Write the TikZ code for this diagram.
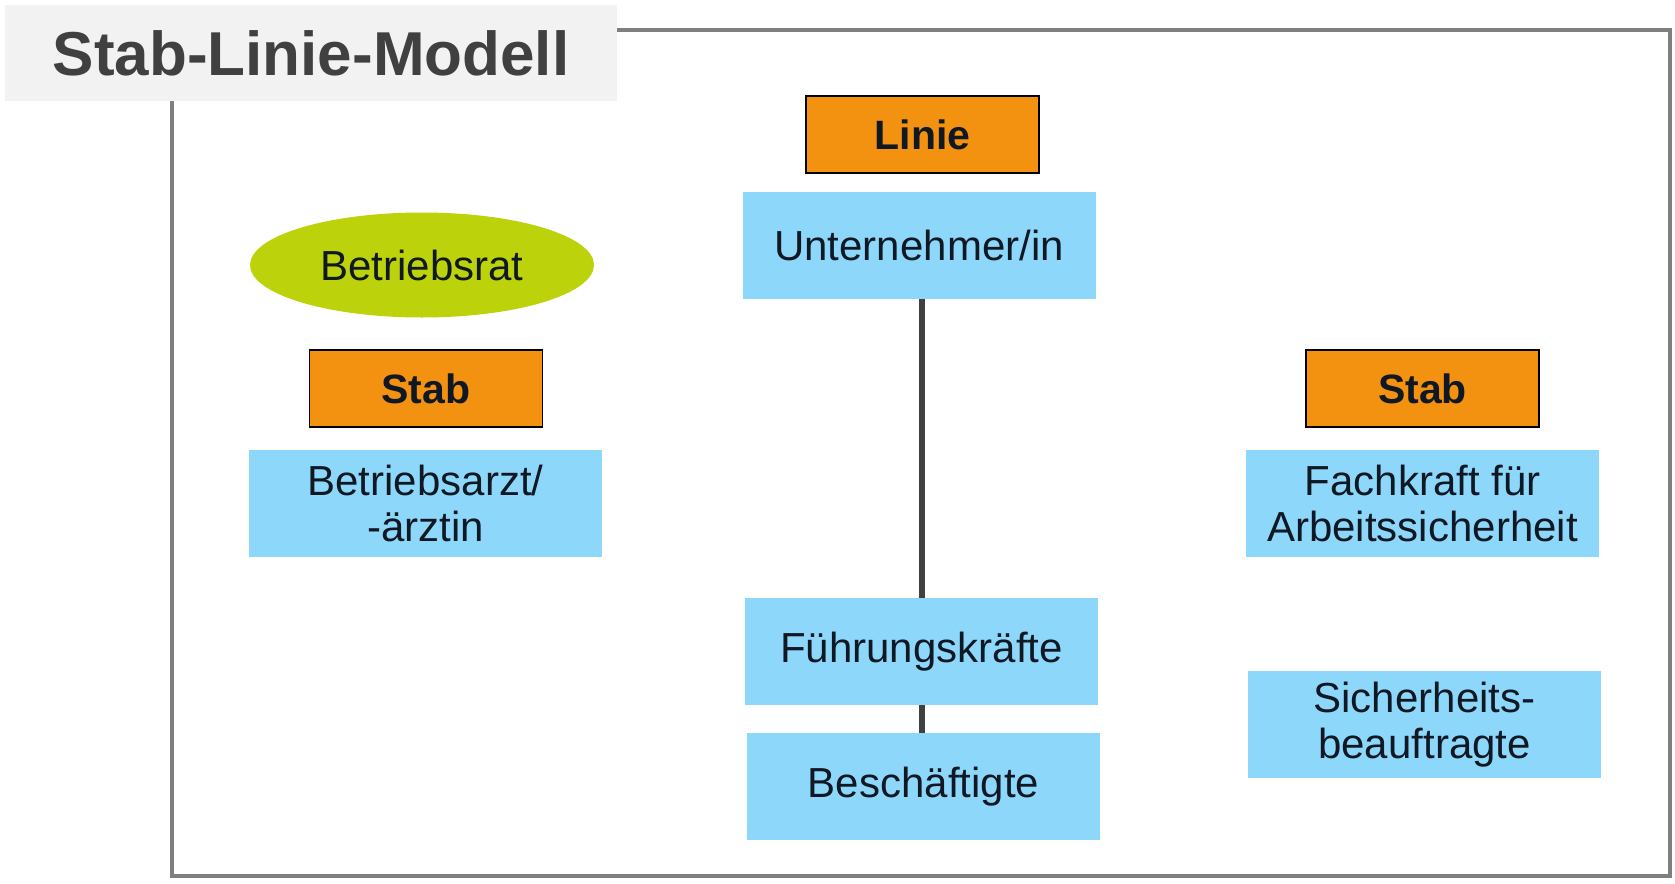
\documentclass[tikz,border=0pt]{standalone}
\usepackage{fontspec}
\setmainfont{Liberation Sans}
\usetikzlibrary{shapes.geometric}
\definecolor{orangeC}{RGB}{243,146,16}
\definecolor{blueC}{RGB}{141,216,250}
\definecolor{greenC}{RGB}{188,210,10}
\definecolor{titleBg}{RGB}{242,242,242}
\definecolor{frameC}{RGB}{127,127,127}
\definecolor{lineC}{RGB}{64,64,64}
\definecolor{txtC}{RGB}{16,24,36}
\tikzset{
  bodyfont/.style={font=\fontsize{42}{46}\selectfont, text=txtC},
  orangebox/.style={draw=black, line width=1.2pt, fill=orangeC, minimum width=233pt, minimum height=77pt, inner sep=0pt, font=\fontsize{41}{46}\selectfont\bfseries, text=txtC},
  bluebox/.style={fill=blueC, minimum width=353pt, minimum height=107pt, inner sep=0pt, align=center, bodyfont},
  greenell/.style={ellipse, fill=greenC, minimum width=344pt, minimum height=105pt, inner sep=0pt, bodyfont},
  conn/.style={draw=lineC, line width=6pt},
}
\begin{document}
\begin{tikzpicture}[x=1pt,y=-1pt]
\useasboundingbox[fill=white] (0,0) rectangle (1675,883);
% frame
\draw[frameC, line width=4.5pt] (172,30) rectangle (1670,876);
% title
\node[fill=titleBg, minimum width=612pt, minimum height=96pt, inner sep=0pt,
  font=\fontsize{62}{70}\selectfont\bfseries, text=lineC] (title) at (311,53) {Stab-Linie-Modell};
% centre column
\node[orangebox] (linie) at (922.5,134.5) {Linie};
\node[bluebox] (unt) at (919,245.5) {Unternehmer/in};
\node[bluebox] (fk) at (921.5,651.5) {Führungskräfte};
\node[bluebox] (besch) at (923.5,786.5) {Beschäftigte};
% left column
\node[greenell] (br) at (422,265) {Betriebsrat};
\node[orangebox] (stabl) at (426,388.5) {Stab};
\node[bluebox] (arzt) at (425.5,503.5) {Betriebsarzt/\\-ärztin};
% right column
\node[orangebox] (stabr) at (1422.5,388.5) {Stab};
\node[bluebox] (fasi) at (1422.5,503.5) {Fachkraft für\\Arbeitssicherheit};
\node[bluebox] (sib) at (1424.5,724.5) {Sicherheits-\\beauftragte};
% connectors
\draw[conn] (fk.north) -- (fk.north |- unt.south);
\draw[conn] (fk.south) -- (fk.south |- besch.north);
\end{tikzpicture}
\end{document}
